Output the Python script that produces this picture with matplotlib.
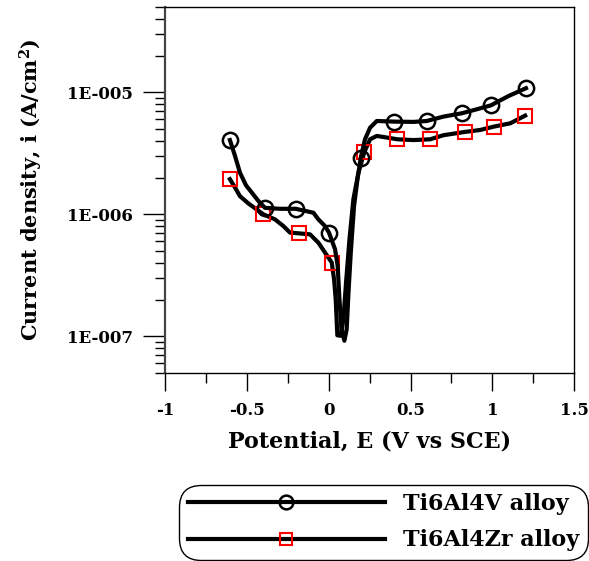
import numpy as np
import matplotlib
matplotlib.use('Agg')
import matplotlib.pyplot as plt
from matplotlib.ticker import FixedLocator, LogLocator, FuncFormatter, NullFormatter, MultipleLocator

plt.rcParams['font.family'] = ['DejaVu Serif']
plt.rcParams['font.weight'] = 'bold'
plt.rcParams['mathtext.fontset'] = 'dejavuserif'
plt.rcParams['mathtext.default'] = 'bf'

# Ti6Al4V 极化曲线 (电位 V vs SCE, 电流密度 A/cm2)
E_v = [-0.603, -0.572, -0.542, -0.505, -0.470, -0.430, -0.389, -0.297, -0.201, -0.093,
       -0.063, -0.022, 0.002, 0.039, 0.055, 0.066, 0.078, 0.096, 0.110, 0.121,
       0.135, 0.155, 0.176, 0.196, 0.222, 0.253, 0.294, 0.402, 0.518, 0.599,
       0.701, 0.813, 0.905, 0.991, 1.099, 1.205]
i_v = [4.06e-6, 3.01e-6, 2.20e-6, 1.73e-6, 1.51e-6, 1.29e-6, 1.13e-6, 1.11e-6, 1.11e-6, 1.03e-6,
       9.1e-7, 8.0e-7, 7.08e-7, 5.17e-7, 3.77e-7, 2.01e-7, 1.14e-7, 9.2e-8, 1.14e-7, 2.28e-7,
       4.85e-7, 1.17e-6, 1.94e-6, 2.91e-6, 4.12e-6, 5.13e-6, 5.82e-6, 5.75e-6, 5.72e-6, 5.82e-6,
       6.32e-6, 6.73e-6, 7.26e-6, 7.82e-6, 9.33e-6, 1.08e-5]
mk_v = [0, 6, 8, 12, 23, 27, 29, 31, 33, 35]

# Ti6Al4Zr 极化曲线
E_z = [-0.603, -0.572, -0.542, -0.491, -0.399, -0.328, -0.277, -0.236, -0.181, -0.114,
       -0.063, -0.022, 0.019, 0.033, 0.043, 0.053, 0.074, 0.090, 0.106, 0.127,
       0.151, 0.182, 0.218, 0.253, 0.294, 0.420, 0.518, 0.620, 0.701, 0.830,
       0.925, 1.011, 1.109, 1.200]
i_z = [1.94e-6, 1.66e-6, 1.41e-6, 1.23e-6, 1.0e-6, 9.09e-7, 8.02e-7, 7.08e-7, 6.98e-7, 6.85e-7,
       5.86e-7, 4.85e-7, 4.02e-7, 2.93e-7, 2.01e-7, 1.02e-7, 1.01e-7, 1.38e-7, 2.75e-7, 6.24e-7,
       1.33e-6, 2.20e-6, 3.24e-6, 4.12e-6, 4.39e-6, 4.12e-6, 4.06e-6, 4.12e-6, 4.45e-6, 4.73e-6,
       4.91e-6, 5.24e-6, 5.57e-6, 6.44e-6]
mk_z = [0, 4, 8, 12, 22, 25, 27, 29, 31, 33]

labels = ['Ti6Al4V alloy', 'Ti6Al4Zr alloy']

fig = plt.figure(figsize=(5.89, 5.61), dpi=100)
ax = fig.add_axes([0.280, 0.335, 0.695, 0.6525])

ax.plot(E_z, i_z, color='black', lw=3, marker='s', markevery=mk_z, ms=10,
        mfc='none', mec='red', mew=1.5, label=labels[1], zorder=3)
ax.plot(E_v, i_v, color='black', lw=3, marker='o', markevery=mk_v, ms=11,
        mfc='none', mec='black', mew=1.8, label=labels[0], zorder=4)

ax.set_yscale('log')
ax.set_xlim(-1, 1.5)
ax.set_ylim(5e-8, 5e-5)

ax.xaxis.set_major_locator(MultipleLocator(0.5))
ax.xaxis.set_minor_locator(MultipleLocator(0.25))
ax.xaxis.set_major_formatter(FuncFormatter(lambda v, p: f'{v:g}'))
ax.yaxis.set_major_locator(FixedLocator([1e-7, 1e-6, 1e-5]))
ax.yaxis.set_minor_locator(LogLocator(base=10, subs=np.arange(2, 10)))
ax.yaxis.set_minor_formatter(NullFormatter())
ax.yaxis.set_major_formatter(FuncFormatter(lambda v, p: f'1E-{int(round(-np.log10(v))):03d}'))

ax.tick_params(axis='both', which='both', direction='out', width=1, top=False, right=False,
               labelsize=12)
ax.tick_params(axis='x', which='major', length=13, pad=8)
ax.tick_params(axis='y', which='major', length=16, pad=7)
ax.tick_params(axis='both', which='minor', length=7)
for s in ax.spines.values():
    s.set_linewidth(1)
ax.spines['left'].set_color('#444444')
ax.spines['left'].set_linewidth(1.6)

ax.set_xlabel('Potential, E (V vs SCE)', fontsize=16, fontweight='bold', labelpad=8)
ax.set_ylabel(r'Current density, i (A/cm$^{2}$)', fontsize=15, fontweight='bold', labelpad=16)

h, l = ax.get_legend_handles_labels()
leg = fig.legend(h[::-1], l[::-1], loc='lower right', bbox_to_anchor=(0.998, 0.002),
                 prop={'weight': 'bold', 'size': 16}, handlelength=8.9, handletextpad=0.8,
                 labelspacing=0.65, borderpad=0.38, fancybox=True, framealpha=1,
                 edgecolor='black', numpoints=1, borderaxespad=0, markerscale=0.9)
leg.get_frame().set_linewidth(1)
leg.get_frame().set_boxstyle('round', pad=0, rounding_size=1.0)

fig.savefig('out.png', dpi=100)
